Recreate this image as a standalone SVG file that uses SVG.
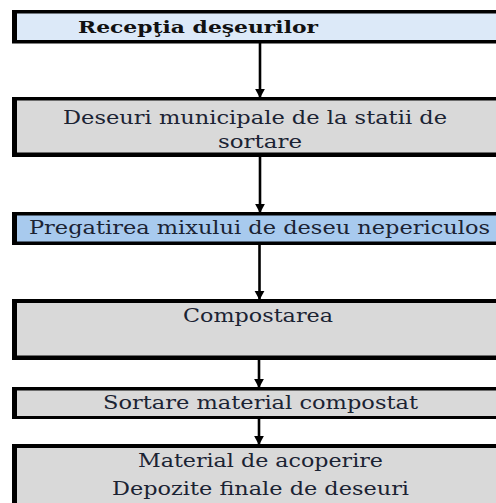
<svg xmlns="http://www.w3.org/2000/svg" width="496" height="503" viewBox="0 0 496 503">
<defs>
<style>
.frame{fill:#000;}
.gray{fill:#d9d9d9;}
.lblue{fill:#dce9f8;}
.mblue{fill:#a8caee;}
.t{font-family:"DejaVu Serif","Liberation Serif",serif;font-size:18.5px;fill:#1b2333;}
.tb{font-family:"DejaVu Serif","Liberation Serif",serif;font-size:17px;font-weight:bold;fill:#111;}
.conn{stroke:#000;stroke-width:2.6;fill:none;}
</style>
<marker id="ah" viewBox="0 0 12 13" refX="12" refY="6.5" markerWidth="9" markerHeight="13" markerUnits="userSpaceOnUse" orient="auto">
<path d="M0,0 L12,6.5 L0,13 Z" fill="#000"/>
</marker>
</defs>
<rect width="496" height="503" fill="#fff"/>
<g id="connectors">
<line class="conn" x1="260" y1="43" x2="260" y2="98" marker-end="url(#ah)"/>
<line class="conn" x1="260" y1="156" x2="260" y2="213" marker-end="url(#ah)"/>
<line class="conn" x1="259.5" y1="244" x2="259.5" y2="300" marker-end="url(#ah)"/>
<line class="conn" x1="259" y1="359" x2="259" y2="388" marker-end="url(#ah)"/>
<line class="conn" x1="259" y1="418" x2="259" y2="445" marker-end="url(#ah)"/>
</g>
<g id="n1">
<rect class="frame" x="12" y="10" width="500" height="33.5"/>
<rect class="lblue" x="17" y="13.5" width="495" height="26.5"/>
<text class="tb" x="78" y="33" textLength="240" lengthAdjust="spacingAndGlyphs">Recepţia deşeurilor</text>
</g>
<g id="n2">
<rect class="frame" x="12" y="97" width="500" height="60"/>
<rect class="gray" x="17" y="100.5" width="495" height="52"/>
<text class="t" x="63" y="123.5" textLength="384" lengthAdjust="spacingAndGlyphs">Deseuri  municipale  de la statii de</text>
<text class="t" x="218" y="148" textLength="84" lengthAdjust="spacingAndGlyphs">sortare</text>
</g>
<g id="n3">
<rect class="frame" x="12" y="212" width="500" height="33"/>
<rect class="mblue" x="17" y="215.5" width="495" height="26"/>
<text class="t" x="29" y="234" textLength="461" lengthAdjust="spacingAndGlyphs">Pregatirea mixului de deseu nepericulos</text>
</g>
<g id="n4">
<rect class="frame" x="12" y="299" width="500" height="61"/>
<rect class="gray" x="17" y="303" width="495" height="52.5"/>
<text class="t" x="183" y="322" textLength="150" lengthAdjust="spacingAndGlyphs">Compostarea</text>
</g>
<g id="n5">
<rect class="frame" x="12" y="387" width="500" height="32"/>
<rect class="gray" x="17" y="390.5" width="495" height="25.5"/>
<text class="t" x="103" y="408.5" textLength="315" lengthAdjust="spacingAndGlyphs">Sortare material compostat</text>
</g>
<g id="n6">
<rect class="frame" x="12" y="444" width="500" height="70"/>
<rect class="gray" x="17" y="448" width="495" height="66"/>
<text class="t" x="138" y="467" textLength="245" lengthAdjust="spacingAndGlyphs">Material de acoperire</text>
<text class="t" x="112" y="495" textLength="297" lengthAdjust="spacingAndGlyphs">Depozite finale de deseuri</text>
</g>
</svg>
